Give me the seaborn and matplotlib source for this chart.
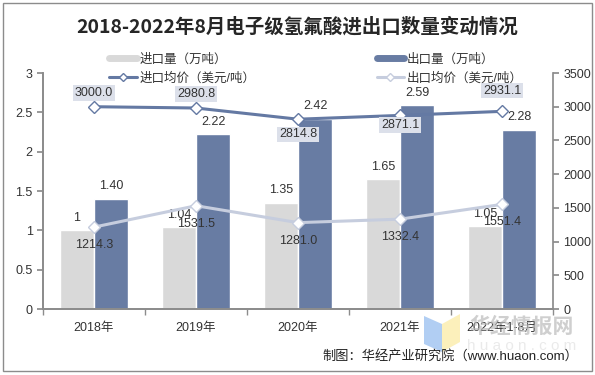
import numpy as np
import pandas as pd
import matplotlib
matplotlib.use("Agg")
import matplotlib.pyplot as plt
import seaborn as sns
from matplotlib.lines import Line2D
from matplotlib.patches import Rectangle, Polygon

# dados
categorias = ['2018年', '2019年', '2020年', '2021年', '2022年1-8月']
import_qtd = [1.00, 1.04, 1.35, 1.65, 1.05]
export_qtd = [1.40, 2.22, 2.42, 2.59, 2.28]
import_preco = [3000.0, 2980.8, 2814.8, 2871.1, 2931.1]
export_preco = [1214.3, 1531.5, 1281.0, 1332.4, 1551.4]
import_qtd_txt = ['1', '1.04', '1.35', '1.65', '1.05']

series_nomes = ['进口量（万吨）', '出口量（万吨）', '进口均价（美元/吨）', '出口均价（美元/吨）']

cor_imp_bar = '#D9D9D9'
cor_exp_bar = '#687CA3'
cor_imp_lin = '#6479A3'
cor_exp_lin = '#C6CDDE'
cor_txt = '#333333'
cor_eixo = '#8C8C8C'

sns.set_theme(style="white")
plt.rcParams['font.family'] = ['Liberation Sans', 'Noto Sans CJK SC', 'DejaVu Sans']

df = pd.DataFrame({
    'ano': categorias * 2,
    'valor': import_qtd + export_qtd,
    'serie': [series_nomes[0]] * len(categorias) + [series_nomes[1]] * len(categorias),
})

fig = plt.figure(figsize=(5.95, 3.75), dpi=100)
ax = fig.add_axes([43 / 595, (375 - 309) / 375, (553 - 43) / 595, (309 - 73) / 375])

sns.barplot(data=df, x='ano', y='valor', hue='serie', palette=[cor_imp_bar, cor_exp_bar],
            width=0.67, saturation=1, legend=False, ax=ax)
ax.set_ylim(0, 3)
ax.set_yticks(np.arange(0, 3.01, 0.5))
ax.set_yticklabels(['0', '0.5', '1', '1.5', '2', '2.5', '3'])

# rótulos das barras
for i in range(len(categorias)):
    ax.annotate(import_qtd_txt[i], (i - 0.1675, import_qtd[i]), xytext=(0, 9), textcoords='offset points',
                ha='center', va='center', fontsize=9, color=cor_txt)
    ax.annotate(f'{export_qtd[i]:.2f}', (i + 0.1675, export_qtd[i]), xytext=(0, 9), textcoords='offset points',
                ha='center', va='center', fontsize=9, color=cor_txt)

ax2 = ax.twinx()
sns.pointplot(x=categorias, y=import_preco, ax=ax2, color=cor_imp_lin, markers='D',
              markersize=6, linewidth=2.2, markerfacecolor='white', markeredgecolor=cor_imp_lin,
              markeredgewidth=1.0)
sns.pointplot(x=categorias, y=export_preco, ax=ax2, color=cor_exp_lin, markers='D',
              markersize=6, linewidth=2.2, markerfacecolor='white', markeredgecolor=cor_exp_lin,
              markeredgewidth=1.0)
ax2.set_ylim(0, 3500)
ax2.set_yticks(np.arange(0, 3501, 500))

# rótulos dos preços
desloc_imp = [10, 10, -11, -7, 15]
for i, v in enumerate(import_preco):
    ax2.annotate(f'{v:.1f}', (i, v), xytext=(0, desloc_imp[i]), textcoords='offset points',
                 ha='center', va='center', fontsize=9, color=cor_txt,
                 bbox=dict(boxstyle='square,pad=0.15', fc='#DCE0EA', ec='none'))
for i, v in enumerate(export_preco):
    ax2.annotate(f'{v:.1f}', (i, v), xytext=(0, -13), textcoords='offset points',
                 ha='center', va='center', fontsize=9, color=cor_txt)

# eixos
n = len(categorias)
ax.set_xlim(-0.5, n - 0.5)
ax.set_xticks(range(n))
ax.set_xticklabels(categorias)
ax.set_xticks(np.arange(-0.5, n, 1), minor=True)
ax.tick_params(axis='x', which='major', length=0, labelsize=9, labelcolor=cor_txt, pad=9)
ax.tick_params(axis='x', which='minor', length=4, direction='out', color=cor_eixo, bottom=True)
ax.tick_params(axis='y', length=4, direction='out', color=cor_eixo, labelsize=9, labelcolor=cor_txt, left=True)
ax2.tick_params(axis='y', length=4, direction='out', color=cor_eixo, labelsize=9, labelcolor=cor_txt, right=True)
for a in (ax, ax2):
    a.set_xlabel('')
    a.set_ylabel('')
    a.spines['top'].set_visible(False)
    for s in ('left', 'right', 'bottom'):
        a.spines[s].set_color(cor_eixo)
ax.spines['right'].set_visible(False)

# legenda
handles = [
    Line2D([], [], color=cor_imp_bar, lw=5),
    Line2D([], [], color=cor_imp_lin, lw=2.2, marker='D', markersize=4.5, markerfacecolor='white'),
    Line2D([], [], color=cor_exp_bar, lw=5),
    Line2D([], [], color=cor_exp_lin, lw=2.2, marker='D', markersize=4.5, markerfacecolor='white'),
]
labels = [series_nomes[0], series_nomes[2], series_nomes[1], series_nomes[3]]
fig.legend(handles, labels, ncol=2, loc='upper left', bbox_to_anchor=(98 / 595, 1 - 42 / 375),
           frameon=False, fontsize=9, handlelength=2.2, handletextpad=0.2,
           columnspacing=9.7, labelspacing=0.55, labelcolor=cor_txt)

fig.text(0.5, 1 - 27 / 375, '2018-2022年8月电子级氢氟酸进出口数量变动情况', ha='center', va='center',
         fontsize=14, fontweight='bold', color='#262626',
         family=['Noto Sans CJK SC', 'DejaVu Sans'])

# marca d'água
fig.patches.append(Polygon([(424 / 595, 1 - 316 / 375), (442 / 595, 1 - 324 / 375),
                            (442 / 595, 1 - 352 / 375), (424 / 595, 1 - 344 / 375)],
                           closed=True, transform=fig.transFigure, fc='#A9C9F2', ec='none', alpha=0.9))
fig.patches.append(Polygon([(442 / 595, 1 - 324 / 375), (460 / 595, 1 - 314 / 375),
                            (460 / 595, 1 - 342 / 375), (442 / 595, 1 - 352 / 375)],
                           closed=True, transform=fig.transFigure, fc='#FCEFB4', ec='none', alpha=0.9))
fig.text(522 / 595, 1 - 326 / 375, '华经情报网', ha='center', va='center', fontsize=15, fontweight='bold',
         color='#BBBBBB', alpha=0.7, family=['Noto Sans CJK SC', 'DejaVu Sans'])
fig.text(522 / 595, 1 - 346 / 375, 'h u a o n . c o m', ha='center', va='center', fontsize=11,
         color='#DDDDDD', alpha=0.6)

fig.text(578 / 595, 1 - 356 / 375, '制图：华经产业研究院（www.huaon.com）', ha='right', va='center',
         fontsize=9.5, color='#222222')

fig.patches.append(Rectangle((3 / 595, 4 / 375), 589 / 595, 368 / 375, transform=fig.transFigure,
                             fill=False, edgecolor='#8C8C8C', lw=1))

fig.savefig('out.png', dpi=100)
